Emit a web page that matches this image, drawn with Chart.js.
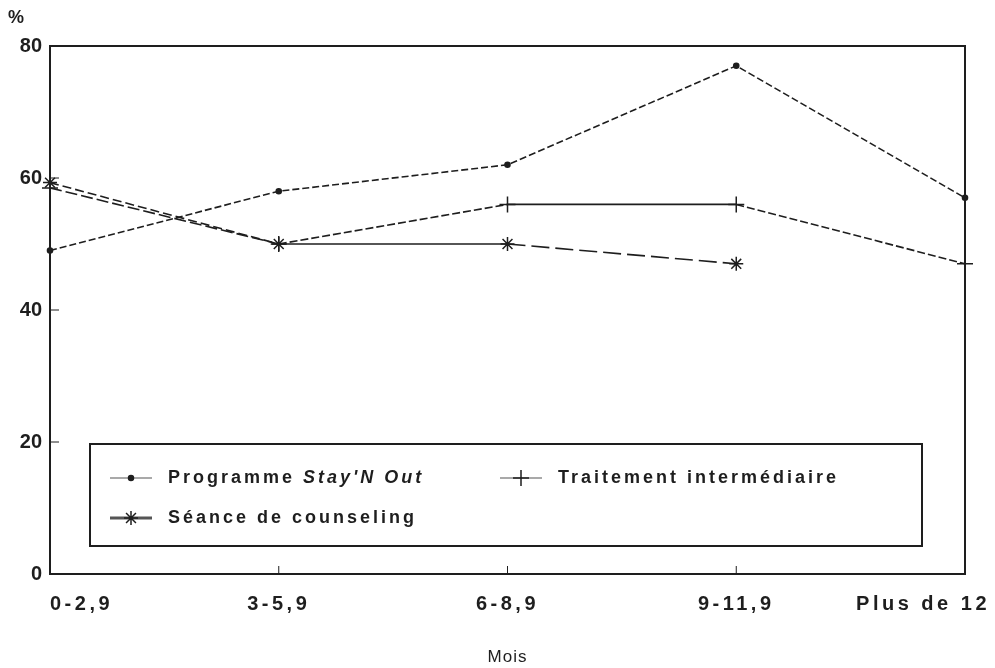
<!DOCTYPE html>
<html>
<head>
<meta charset="utf-8">
<script src="https://cdn.jsdelivr.net/npm/chart.js@4"></script>
<style>
  html, body { margin: 0; padding: 0; background: #fff; }
  #wrap { width: 995px; height: 668px; }
</style>
</head>
<body>
<div id="wrap"><canvas id="chart" width="995" height="668"></canvas></div>
<script>
const months = ['0-2,9', '3-5,9', '6-8,9', '9-11,9', 'Plus de 12'];
const stayNOut = [49, 58, 62, 77, 57];
const traitement = [58.5, 50, 56, 56, 47];
const counseling = [59.3, 50, 50, 47, null];
const yTicks = [0, 20, 40, 60, 80];

const ink = '#1e1e1e';
const labelFont = 'bold 20px "Liberation Sans", Arial, sans-serif';

// dash pattern per segment (index = start point of the segment)
function dashBy(patterns) {
  return ctx => patterns[ctx.p0DataIndex] || [];
}

const frame = {
  id: 'frame',
  afterDraw(chart) {
    const { ctx, chartArea: a, scales } = chart;
    const x = scales.x, y = scales.y;
    ctx.save();
    ctx.strokeStyle = ink;
    ctx.lineWidth = 2;
    ctx.strokeRect(a.left, a.top, a.right - a.left, a.bottom - a.top);

    // inward ticks
    ctx.lineWidth = 1;
    ctx.beginPath();
    for (let i = 1; i < months.length - 1; i++) {
      const px = x.getPixelForValue(i);
      ctx.moveTo(px, a.bottom);
      ctx.lineTo(px, a.bottom - 8);
    }
    for (const v of yTicks.slice(1, -1)) {
      const py = y.getPixelForValue(v);
      ctx.moveTo(a.left, py);
      ctx.lineTo(a.left + 9, py);
    }
    ctx.stroke();

    // y labels
    ctx.fillStyle = ink;
    ctx.font = labelFont;
    ctx.textAlign = 'right';
    ctx.textBaseline = 'middle';
    for (const v of yTicks) {
      ctx.fillText(String(v), a.left - 8, y.getPixelForValue(v));
    }
    ctx.textAlign = 'left';
    ctx.font = 'bold 18px "Liberation Sans", Arial, sans-serif';
    ctx.fillText('%', 8, 18);

    // x labels
    ctx.font = labelFont;
    ctx.letterSpacing = '3.5px';
    ctx.textBaseline = 'middle';
    months.forEach((m, i) => {
      const px = x.getPixelForValue(i);
      const w = ctx.measureText(m).width;
      let left = px - w / 2;
      if (i === 0) left = px;
      if (i === months.length - 1) left = chart.width - 5 - w;
      ctx.textAlign = 'left';
      ctx.fillText(m, left, 604);
    });
    ctx.letterSpacing = '1px';
    ctx.font = '17px "Liberation Sans", Arial, sans-serif';
    ctx.textAlign = 'center';
    ctx.fillText('Mois', (a.left + a.right) / 2, 657);
    ctx.restore();
  }
};

const legendBox = {
  id: 'legendBox',
  afterDraw(chart) {
    const { ctx } = chart;
    const sets = chart.data.datasets;
    const items = [
      { ds: 0, x: 110, y: 478, parts: [['Programme ', false], ["Stay'N Out", true]] },
      { ds: 1, x: 500, y: 478, parts: [['Traitement intermédiaire', false]] },
      { ds: 2, x: 110, y: 518, parts: [['Séance de counseling', false]] },
    ];
    ctx.save();
    ctx.strokeStyle = ink;
    ctx.lineWidth = 2;
    ctx.strokeRect(90, 444, 832, 102);
    for (const it of items) {
      const d = sets[it.ds];
      ctx.strokeStyle = '#555';
      ctx.lineWidth = it.ds === 2 ? 3 : 1.2;
      ctx.beginPath();
      ctx.moveTo(it.x, it.y);
      ctx.lineTo(it.x + 42, it.y);
      ctx.stroke();
      ctx.strokeStyle = ink;
      ctx.fillStyle = ink;
      ctx.lineWidth = 1.5;
      Chart.helpers.drawPoint(ctx, {
        pointStyle: d.pointStyle, radius: d.pointRadius, borderWidth: 1.5
      }, it.x + 21, it.y);
      let tx = it.x + 58;
      ctx.textAlign = 'left';
      ctx.textBaseline = 'middle';
      ctx.letterSpacing = '3px';
      for (const [txt, ital] of it.parts) {
        ctx.font = (ital ? 'italic ' : '') + 'bold 18px "Liberation Sans", Arial, sans-serif';
        ctx.fillText(txt, tx, it.y);
        tx += ctx.measureText(txt).width;
      }
    }
    ctx.restore();
  }
};

new Chart(document.getElementById('chart'), {
  type: 'line',
  data: {
    labels: months,
    datasets: [
      {
        label: "Programme Stay'N Out",
        data: stayNOut,
        borderColor: ink,
        backgroundColor: ink,
        borderWidth: 1.6,
        borderDash: [7, 3],
        pointStyle: 'circle',
        pointRadius: 2.5,
        clip: false,
      },
      {
        label: 'Traitement intermédiaire',
        data: traitement,
        borderColor: ink,
        backgroundColor: ink,
        borderWidth: 1.6,
        pointStyle: 'cross',
        pointRadius: 8,
        pointBorderWidth: 1.5,
        segment: { borderDash: dashBy([[12, 4], [8, 3], [], [8, 3]]) },
        clip: false,
      },
      {
        label: 'Séance de counseling',
        data: counseling,
        borderColor: ink,
        backgroundColor: ink,
        borderWidth: 1.6,
        pointStyle: 'star',
        pointRadius: 7,
        pointBorderWidth: 1.5,
        segment: { borderDash: dashBy([[9, 4], [], [18, 6]]) },
        clip: false,
      },
    ],
  },
  options: {
    responsive: false,
    animation: false,
    layout: { padding: { top: 46, right: 30, left: 0, bottom: 0 } },
    plugins: { legend: { display: false }, tooltip: { enabled: false } },
    scales: {
      x: {
        offset: false,
        grid: { display: false },
        border: { display: false },
        ticks: { display: false },
        afterFit: s => { s.height = 94; },
      },
      y: {
        min: 0,
        max: 80,
        ticks: { display: false, stepSize: 20 },
        grid: { display: false },
        border: { display: false },
        afterFit: s => { s.width = 50; },
      },
    },
  },
  plugins: [frame, legendBox],
});
</script>
</body>
</html>
